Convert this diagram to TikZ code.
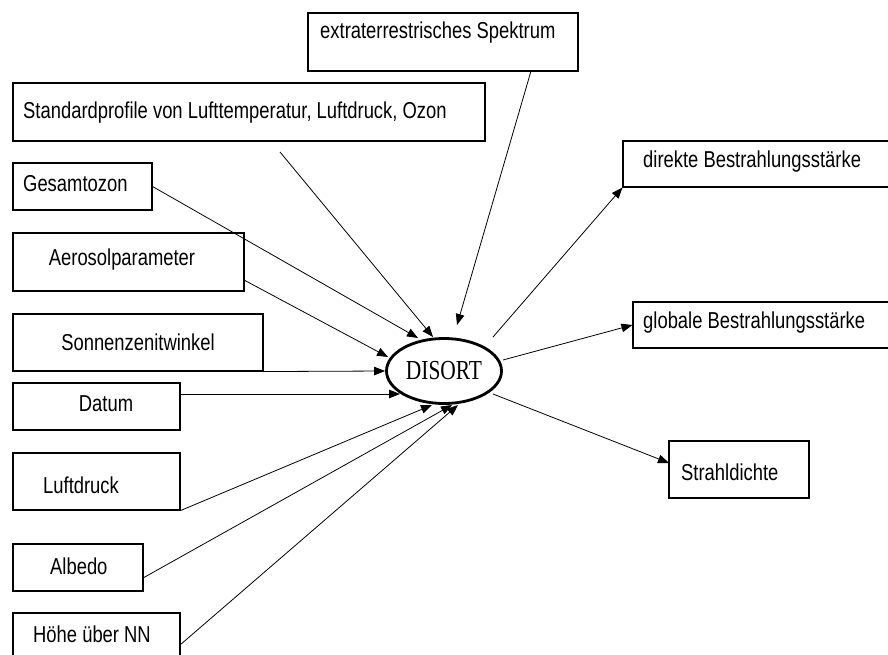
\documentclass[tikz,border=0pt]{standalone}
\usepackage{fontspec}
\usepackage{graphicx}
\newfontfamily\lab{Liberation Sans}
\newfontfamily\disfont{Liberation Serif}
\newcommand{\Tx}[1]{\scalebox{0.8}[1]{\lab\fontsize{23}{25}\selectfont #1}}
\usetikzlibrary{shapes.geometric,arrows.meta}
\begin{document}
\begin{tikzpicture}[x=1pt,y=-1pt,
  box/.style={draw, line width=1.1pt, rectangle, inner sep=0pt},
  txt/.style={inner sep=0pt},
  con/.style={line width=0.8pt, -{Triangle[length=11pt,width=8.5pt]}},
  ]
\useasboundingbox (0,0) rectangle (888,655);
\clip (0,0) rectangle (888,655);

% boxes
\node[box, minimum width=270pt, minimum height=58pt] (ext) at (443,42) {};
\node[box, minimum width=472pt, minimum height=58pt] (std) at (249,112) {};
\node[box, minimum width=139pt, minimum height=47pt] (gesamt) at (82.5,186.5) {};
\node[box, minimum width=231pt, minimum height=58pt] (aero) at (128.5,262) {};
\node[box, minimum width=250pt, minimum height=57pt] (sonn) at (138,342.5) {};
\node[box, minimum width=167pt, minimum height=47pt] (datum) at (96.5,406.5) {};
\node[box, minimum width=167pt, minimum height=57pt] (luft) at (96.5,481.5) {};
\node[box, minimum width=130pt, minimum height=47pt] (albedo) at (78,567.5) {};
\node[box, minimum width=167pt, minimum height=57pt] (hoehe) at (96.5,641.5) {};
\node[box, minimum width=297pt, minimum height=46pt] (direkte) at (771.5,164) {};
\node[box, minimum width=287pt, minimum height=46pt] (globale) at (776.5,325) {};
\node[box, minimum width=140pt, minimum height=57pt] (strahl) at (739,469.5) {};

% texts
\node[txt, anchor=west] (extT) at (320,33) {\Tx{extraterrestrisches Spektrum}};
\node[txt, anchor=west] (stdT) at (23,113) {\Tx{Standardprofile von Lufttemperatur, Luftdruck, Ozon}};
\node[txt, anchor=west] (gesamtT) at (23,184) {\Tx{Gesamtozon}};
\node[txt] (aeroT) at (122,260) {\Tx{Aerosolparameter}};
\node[txt] (sonnT) at (138,342) {\Tx{Sonnenzenitwinkel}};
\node[txt] (datumT) at (106,404) {\Tx{Datum}};
\node[txt, anchor=west] (luftT) at (43,485) {\Tx{Luftdruck}};
\node[txt, anchor=west] (albedoT) at (50,566) {\Tx{Albedo}};
\node[txt, anchor=west] (hoeheT) at (33,634) {\Tx{Höhe über NN}};
\node[txt, anchor=west] (direkteT) at (643,162) {\Tx{direkte Bestrahlungsstärke}};
\node[txt, anchor=west] (globaleT) at (643,323) {\Tx{globale Bestrahlungsstärke}};
\node[txt, anchor=west] (strahlT) at (681,472) {\Tx{Strahldichte}};

% central ellipse
\node[draw, ellipse, line width=2.8pt, minimum width=115pt, minimum height=65pt,
      inner sep=0pt] (disort) at (444,371)
      {\scalebox{0.78}[1]{\disfont\fontsize{27.5}{29}\selectfont DISORT}};

% connector end points
\coordinate (extS) at (531,71);
\coordinate (extE) at (457,325);
\coordinate (stdS) at (280,152);
\coordinate (stdE) at (433,337);
\coordinate (gesE) at (418,338);
\coordinate (aeroS) at (244,280);
\coordinate (aeroE) at (388,357);
\coordinate (datS) at (180,394);
\coordinate (datE) at (400,394);
\coordinate (luftE) at (432,405);
\coordinate (albS) at (143,578);
\coordinate (albE) at (452,405);
\coordinate (hoeS) at (180,645);
\coordinate (hoeE) at (458,405);
\coordinate (o1S) at (493,337);
\coordinate (o2S) at (503,360);
\coordinate (o3S) at (493,394);
\coordinate (strE) at (669,463);

% inputs
\draw[con] (extS) -- (extE);
\draw[con] (stdS) -- (stdE);
\draw[con] (gesamt.east) -- (gesE);
\draw[con] (aeroS) -- (aeroE);
\draw[con] (sonn.south east) -- (disort.west);
\draw[con] (datS) -- (datE);
\draw[con] (luft.south east) -- (luftE);
\draw[con] (albS) -- (albE);
\draw[con] (hoeS) -- (hoeE);

% outputs
\draw[con] (o1S) -- (direkte.south west);
\draw[con] (o2S) -- (globale.west);
\draw[con] (o3S) -- (strE);
\end{tikzpicture}
\end{document}
